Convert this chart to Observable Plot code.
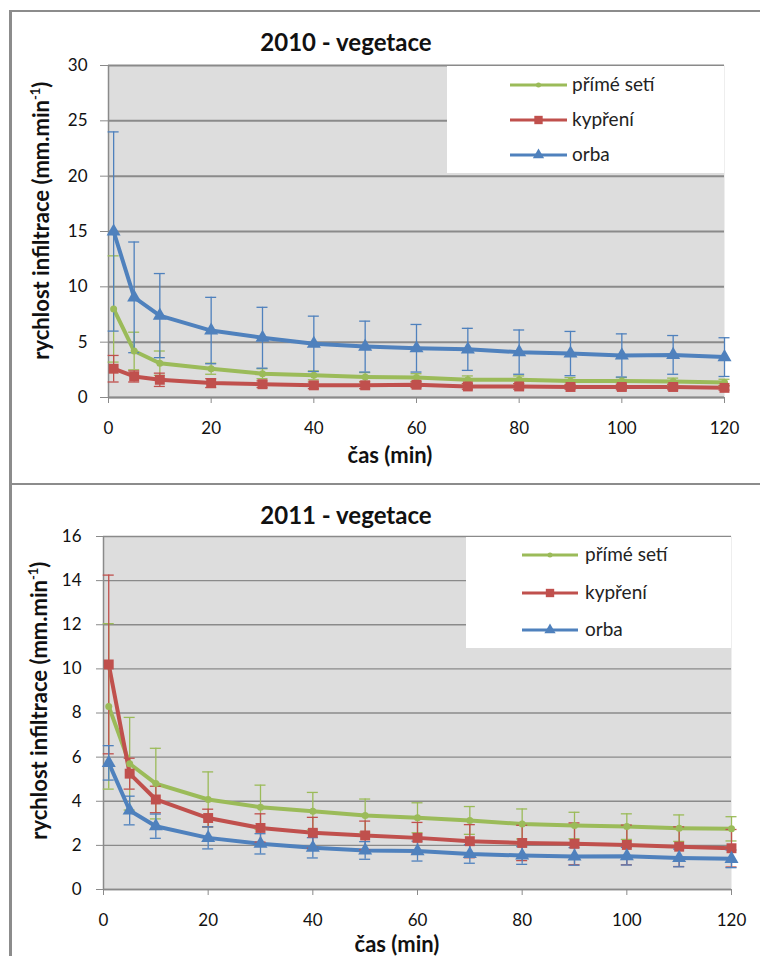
<!DOCTYPE html>
<html>
<head>
<meta charset="utf-8">
<script src="https://cdn.jsdelivr.net/npm/d3@7"></script>
<script src="https://cdn.jsdelivr.net/npm/@observablehq/plot@0.6"></script>
<style>
  html, body { margin: 0; padding: 0; background: #fff; }
  #page { position: relative; width: 760px; height: 956px; overflow: hidden; background: #fff; font-family: Lato, "Open Sans", "DejaVu Sans", sans-serif; color: #111; }
  .panel { position: absolute; border: 2px solid #8c8c8c; border-left-width: 3px; box-sizing: border-box; }
  .chart { position: absolute; left: 0; }
  .title { position: absolute; font-weight: bold; font-size: 24px; text-align: center; white-space: nowrap; }
  .xlabel { position: absolute; font-weight: bold; font-size: 22px; text-align: center; white-space: nowrap; }
  .ylabel { position: absolute; font-weight: bold; font-size: 22px; text-align: center; white-space: nowrap; transform: rotate(-90deg); transform-origin: 50% 50%; }
  .ylabel sup { font-size: 13px; }
  .legend { position: absolute; background: #fff; }
  .legend .item { position: absolute; font-size: 19px; color: #222; white-space: nowrap; }
</style>
</head>
<body>
<div id="page">
  <div class="panel" style="left:9px; top:10px; width:760px; height:475px;"></div>
  <div class="panel" style="left:9px; top:483px; width:760px; height:480px;"></div>
  <div class="chart" id="c2010" style="top:0px;"></div>
  <div class="chart" id="c2011" style="top:480px;"></div>
</div>
<script>
// ---------- data ----------
const time = [1, 5, 10, 20, 30, 40, 50, 60, 70, 80, 90, 100, 110, 120];
const seriesNames = ["přímé setí", "kypření", "orba"];
const seriesColors = ["#9BBB59", "#C0504D", "#4F81BD"];
const seriesSymbols = ["circle", "square", "triangle"];
const xTicks = [0, 20, 40, 60, 80, 100, 120];
const yTicks2010 = [0, 5, 10, 15, 20, 25, 30];
const yTicks2011 = [0, 2, 4, 6, 8, 10, 12, 14, 16];

// 2010 - vegetace
const prime2010    = [8.0, 4.2, 3.1, 2.6, 2.15, 2.0, 1.85, 1.8, 1.6, 1.6, 1.5, 1.5, 1.45, 1.35];
const prime2010Err = [4.8, 1.7, 1.1, 0.5, 0.45, 0.4, 0.4, 0.35, 0.35, 0.35, 0.3, 0.3, 0.3, 0.3];
const kypr2010     = [2.6, 1.9, 1.6, 1.3, 1.2, 1.1, 1.1, 1.15, 1.0, 1.0, 0.95, 0.95, 0.95, 0.87];
const kypr2010Err  = [1.2, 0.5, 0.6, 0.4, 0.3, 0.3, 0.3, 0.25, 0.25, 0.25, 0.2, 0.25, 0.25, 0.2];
const orba2010     = [15.0, 9.05, 7.4, 6.05, 5.4, 4.85, 4.6, 4.45, 4.35, 4.1, 3.97, 3.8, 3.85, 3.65];
const orba2010Err  = [9.0, 5.0, 3.8, 3.0, 2.75, 2.5, 2.3, 2.15, 1.9, 2.0, 2.0, 1.95, 1.75, 1.75];

// 2011 - vegetace
const prime2011    = [8.3, 5.7, 4.8, 4.08, 3.73, 3.55, 3.35, 3.25, 3.13, 2.97, 2.9, 2.85, 2.78, 2.75];
const prime2011Err = [3.75, 2.1, 1.6, 1.25, 1.0, 0.85, 0.75, 0.68, 0.63, 0.68, 0.6, 0.58, 0.6, 0.55];
const kypr2011     = [10.2, 5.25, 4.08, 3.24, 2.79, 2.57, 2.45, 2.34, 2.19, 2.11, 2.07, 2.02, 1.94, 1.87];
const kypr2011Err  = [4.05, 0.7, 0.6, 0.4, 0.64, 0.7, 0.65, 0.7, 0.75, 0.8, 0.95, 0.9, 0.9, 0.85];
const orba2011     = [5.74, 3.58, 2.87, 2.34, 2.07, 1.89, 1.77, 1.74, 1.61, 1.54, 1.5, 1.51, 1.43, 1.39];
const orba2011Err  = [0.78, 0.65, 0.55, 0.5, 0.46, 0.46, 0.4, 0.45, 0.42, 0.4, 0.4, 0.4, 0.4, 0.4];

// ---------- helpers ----------
function rowsFor(values, errs, si) {
  return time.map((t, i) => ({t, v: values[i], e: errs[i], s: si}));
}

function makeChart(cfg) {
  const marks = [
    Plot.frame({fill: `url(#${cfg.pid})`, stroke: "none"}),
    Plot.gridY(cfg.yTicks, {stroke: "#8a8a8a", strokeOpacity: 1, strokeWidth: cfg.gridW}),
    Plot.ruleX([0], {stroke: "#8a8a8a", strokeWidth: 1.5}),
    Plot.ruleY([0], {stroke: "#8a8a8a", strokeWidth: 1.5}),
    Plot.axisY({ticks: cfg.yTicks, tickSize: cfg.yTickSize, tickPadding: cfg.yTickPad, fontSize: 17, stroke: "#8a8a8a", fill: "#111", label: null}),
    Plot.axisX({ticks: xTicks, tickSize: 6, tickPadding: 18, fontSize: 17, stroke: "#8a8a8a", fill: "#111", label: null})
  ];
  cfg.series.forEach((rows, si) => {
    const c = seriesColors[si];
    marks.push(Plot.line(rows, {x: "t", y: "v", stroke: c, strokeWidth: 4, strokeLinejoin: "round"}));
  });
  cfg.series.forEach((rows, si) => {
    const c = seriesColors[si];
    marks.push(Plot.ruleX(rows, {x: "t", y1: d => d.v - d.e, y2: d => d.v + d.e, stroke: c, strokeWidth: 1.3}));
    marks.push(Plot.ruleY(rows, {y: d => d.v + d.e, x1: "t", x2: "t", insetLeft: -5.5, insetRight: -5.5, stroke: c, strokeWidth: 1.3}));
    marks.push(Plot.ruleY(rows, {y: d => d.v - d.e, x1: "t", x2: "t", insetLeft: -5.5, insetRight: -5.5, stroke: c, strokeWidth: 1.3}));
  });
  cfg.series.forEach((rows, si) => {
    const c = seriesColors[si];
    const r = si === 0 ? 3.5 : si === 1 ? 5.6 : 5.2;
    marks.push(Plot.dot(rows, {x: "t", y: "v", symbol: seriesSymbols[si], r, fill: c, stroke: "none"}));
  });
  const svg = Plot.plot({
    width: 760,
    height: cfg.height,
    marginLeft: cfg.ml, marginRight: cfg.mr, marginTop: cfg.mt, marginBottom: cfg.mb,
    x: {domain: [0, 120]},
    y: {domain: cfg.yDomain},
    style: {background: "transparent", fontFamily: 'Lato, "Open Sans", "DejaVu Sans", sans-serif', fontSize: "17px", color: "#111"},
    marks
  });
  // stipple pattern fill for the plot area
  const ns = "http://www.w3.org/2000/svg";
  const defs = document.createElementNS(ns, "defs");
  const pat = document.createElementNS(ns, "pattern");
  pat.setAttribute("id", cfg.pid);
  pat.setAttribute("patternUnits", "userSpaceOnUse");
  pat.setAttribute("width", "2");
  pat.setAttribute("height", "2");
  [[0, 0, "#c4c4c4"], [1, 1, "#c4c4c4"], [1, 0, "#f6f6f6"], [0, 1, "#f6f6f6"]].forEach(([x, y, f]) => {
    const r = document.createElementNS(ns, "rect");
    r.setAttribute("x", x); r.setAttribute("y", y);
    r.setAttribute("width", 1); r.setAttribute("height", 1);
    r.setAttribute("fill", f);
    pat.appendChild(r);
  });
  defs.appendChild(pat);
  svg.insertBefore(defs, svg.firstChild);
  return svg;
}

function addText(cls, html, style) {
  const d = document.createElement("div");
  d.className = cls;
  d.innerHTML = html;
  Object.assign(d.style, style);
  document.getElementById("page").appendChild(d);
  return d;
}

function addLegend(box, lineX0, lineX1, textX, rowYs) {
  const page = document.getElementById("page");
  const lg = document.createElement("div");
  lg.className = "legend";
  Object.assign(lg.style, {left: box[0] + "px", top: box[1] + "px", width: (box[2] - box[0]) + "px", height: (box[3] - box[1]) + "px"});
  page.appendChild(lg);
  seriesNames.forEach((name, i) => {
    const y = rowYs[i] - box[1];
    const w = lineX1 - lineX0;
    const s = d3.create("svg").attr("width", w).attr("height", 14)
      .style("position", "absolute").style("left", (lineX0 - box[0]) + "px").style("top", (y - 7) + "px");
    s.append("line").attr("x1", 0).attr("x2", w).attr("y1", 7).attr("y2", 7).attr("stroke", seriesColors[i]).attr("stroke-width", 3);
    const sym = i === 0 ? d3.symbolCircle : i === 1 ? d3.symbolSquare : d3.symbolTriangle;
    const size = i === 0 ? 20 : i === 1 ? 70 : 55;
    s.append("path").attr("transform", `translate(${w / 2},7)`).attr("d", d3.symbol(sym, size)()).attr("fill", seriesColors[i]);
    lg.appendChild(s.node());
    const t = document.createElement("div");
    t.className = "item";
    t.textContent = name;
    Object.assign(t.style, {left: (textX - box[0]) + "px", top: (y - 13) + "px", lineHeight: "24px"});
    lg.appendChild(t);
  });
}

// ---------- charts ----------
document.getElementById("c2010").appendChild(makeChart({
  pid: "stip2010", height: 482, ml: 108, mr: 36, mt: 65, mb: 85,
  yDomain: [0, 30], yTicks: yTicks2010, yTickSize: 8, yTickPad: 13, gridW: 2,
  series: [rowsFor(prime2010, prime2010Err, 0), rowsFor(kypr2010, kypr2010Err, 1), rowsFor(orba2010, orba2010Err, 2)]
}));
document.getElementById("c2011").appendChild(makeChart({
  pid: "stip2011", height: 476, ml: 103, mr: 29, mt: 56, mb: 67,
  yDomain: [0, 16], yTicks: yTicks2011, yTickSize: 7, yTickPad: 15, gridW: 1.4,
  series: [rowsFor(prime2011, prime2011Err, 0), rowsFor(kypr2011, kypr2011Err, 1), rowsFor(orba2011, orba2011Err, 2)]
}));

// titles and axis labels
addText("title", "2010 - vegetace", {left: "196px", width: "300px", top: "27px", lineHeight: "30px"});
addText("title", "2011 - vegetace", {left: "196px", width: "300px", top: "500px", lineHeight: "30px"});
addText("xlabel", "čas (min)", {left: "240px", width: "300px", top: "441px", lineHeight: "28px"});
addText("xlabel", "čas (min)", {left: "247px", width: "300px", top: "930px", lineHeight: "28px"});
addText("ylabel", "rychlost infiltrace (mm.min<sup>-1</sup>)", {left: (38 - 200) + "px", width: "400px", top: (218 - 14) + "px", lineHeight: "28px"});
addText("ylabel", "rychlost infiltrace (mm.min<sup>-1</sup>)", {left: (36 - 200) + "px", width: "400px", top: (698 - 14) + "px", lineHeight: "28px"});

// legends
addLegend([447, 66, 724, 173], 510, 567, 572, [85, 120, 155]);
addLegend([466, 537, 731, 648], 522, 578, 585, [555, 593, 630]);
</script>
</body>
</html>
